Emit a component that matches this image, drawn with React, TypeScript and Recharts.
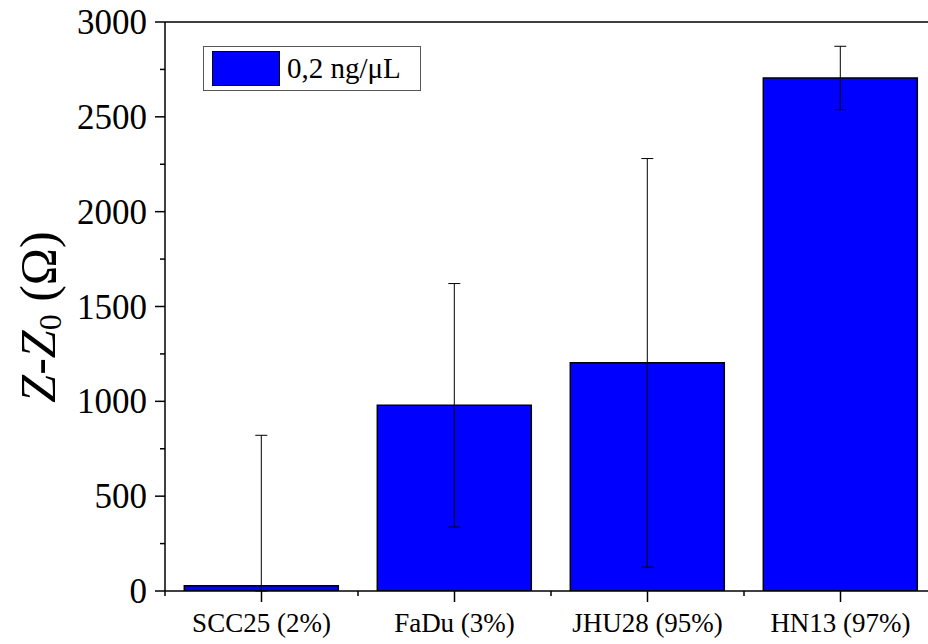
import { BarChart, Bar, XAxis, YAxis, ErrorBar, ReferenceLine, Legend } from 'recharts';

const FONT = "'Liberation Serif', 'Times New Roman', serif";

// values
const cellLines = ['SCC25 (2%)', 'FaDu (3%)', 'JHU28 (95%)', 'HN13 (97%)'];
const meanValues = [28, 979, 1203, 2705];
// lower part of SCC25's error bar is cut at the axis in the original
const errorLow = [28, 642, 1077, 167];
const errorHigh = [793, 642, 1077, 167];
const yTicks = [0, 250, 500, 750, 1000, 1250, 1500, 1750, 2000, 2250, 2500, 2750, 3000];
const majorStep = 500;
const seriesName = '0,2 ng/\u03bcL';

const data = cellLines.map((name, i) => ({
  name,
  value: meanValues[i],
  err: [errorLow[i], errorHigh[i]],
}));

function YTick(props: any) {
  const { x, y, payload } = props;
  const major = payload.value % majorStep === 0;
  return (
    <g>
      <line x1={x} x2={x - (major ? 10 : 5)} y1={y} y2={y} stroke="#000" strokeWidth={1.5} />
      {major && (
        <text x={x - 18} y={y + 12} textAnchor="end" fontSize={35} fontFamily={FONT} fill="#000">
          {payload.value}
        </text>
      )}
    </g>
  );
}

function XTick(props: any) {
  const { x, y, payload } = props;
  const half = payload.offset ?? 0;
  return (
    <g>
      <line x1={x} x2={x} y1={y} y2={y + 11} stroke="#000" strokeWidth={1.5} />
      <line x1={x + half} x2={x + half} y1={y} y2={y + 5} stroke="#000" strokeWidth={1.5} />
      {payload.index === 0 && (
        <line x1={x - half} x2={x - half} y1={y} y2={y + 5} stroke="#000" strokeWidth={1.5} />
      )}
      <text x={x} y={y + 41} textAnchor="middle" fontSize={27} fontFamily={FONT} fill="#000">
        {payload.value}
      </text>
    </g>
  );
}

function YLabel() {
  const cx = 38;
  const cy = 317;
  return (
    <text
      x={cx}
      y={cy}
      transform={`rotate(-90 ${cx} ${cy})`}
      textAnchor="middle"
      dominantBaseline="central"
      fontSize={50}
      fontFamily={FONT}
      fill="#000"
    >
      <tspan fontStyle="italic">Z</tspan>
      <tspan>-</tspan>
      <tspan fontStyle="italic">Z</tspan>
      <tspan fontSize={32} dy={12}>0</tspan>
      <tspan dy={-12}> ({'\u03a9'})</tspan>
    </text>
  );
}

function LegendBox() {
  return (
    <div
      style={{
        width: 218,
        height: 45,
        boxSizing: 'border-box',
        border: '1px solid #555',
        background: '#fff',
        display: 'flex',
        alignItems: 'center',
      }}
    >
      <div
        style={{
          width: 68,
          height: 35,
          boxSizing: 'border-box',
          marginLeft: 8,
          background: '#0000ff',
          border: '1.5px solid #000',
        }}
      />
      <span style={{ marginLeft: 7, fontSize: 29, fontFamily: FONT, lineHeight: 1, color: '#000' }}>
        {seriesName}
      </span>
    </div>
  );
}

export default function App() {
  return (
    <div
      style={{
        position: 'absolute',
        left: 0,
        top: 0,
        width: 928,
        height: 644,
        overflow: 'hidden',
        background: '#fff',
      }}
    >
      <BarChart
        width={940}
        height={644}
        data={data}
        margin={{ top: 22, right: 3, bottom: 0, left: 0 }}
        barCategoryGap="10%"
      >
        <XAxis
          dataKey="name"
          height={53}
          interval={0}
          tickSize={0}
          tickMargin={0}
          tickLine={false}
          tick={<XTick />}
          axisLine={{ stroke: '#000', strokeWidth: 1.5 }}
        />
        <YAxis
          width={165}
          domain={[0, 3000]}
          ticks={yTicks}
          interval={0}
          allowDataOverflow
          tickSize={0}
          tickMargin={0}
          tickLine={false}
          tick={<YTick />}
          axisLine={{ stroke: '#000', strokeWidth: 1.5 }}
          label={<YLabel />}
        />
        <ReferenceLine y={3000} stroke="#000" strokeWidth={1.5} />
        <Legend
          layout="horizontal"
          verticalAlign="middle"
          align="center"
          wrapperStyle={{ left: 203, top: 46, width: 218, height: 45 }}
          content={<LegendBox />}
        />
        <Bar dataKey="value" name={seriesName} fill="#0000ff" stroke="#000" strokeWidth={1.5} isAnimationActive={false}>
          <ErrorBar dataKey="err" width={6} stroke="#000" strokeWidth={1} direction="y" />
        </Bar>
      </BarChart>
    </div>
  );
}
